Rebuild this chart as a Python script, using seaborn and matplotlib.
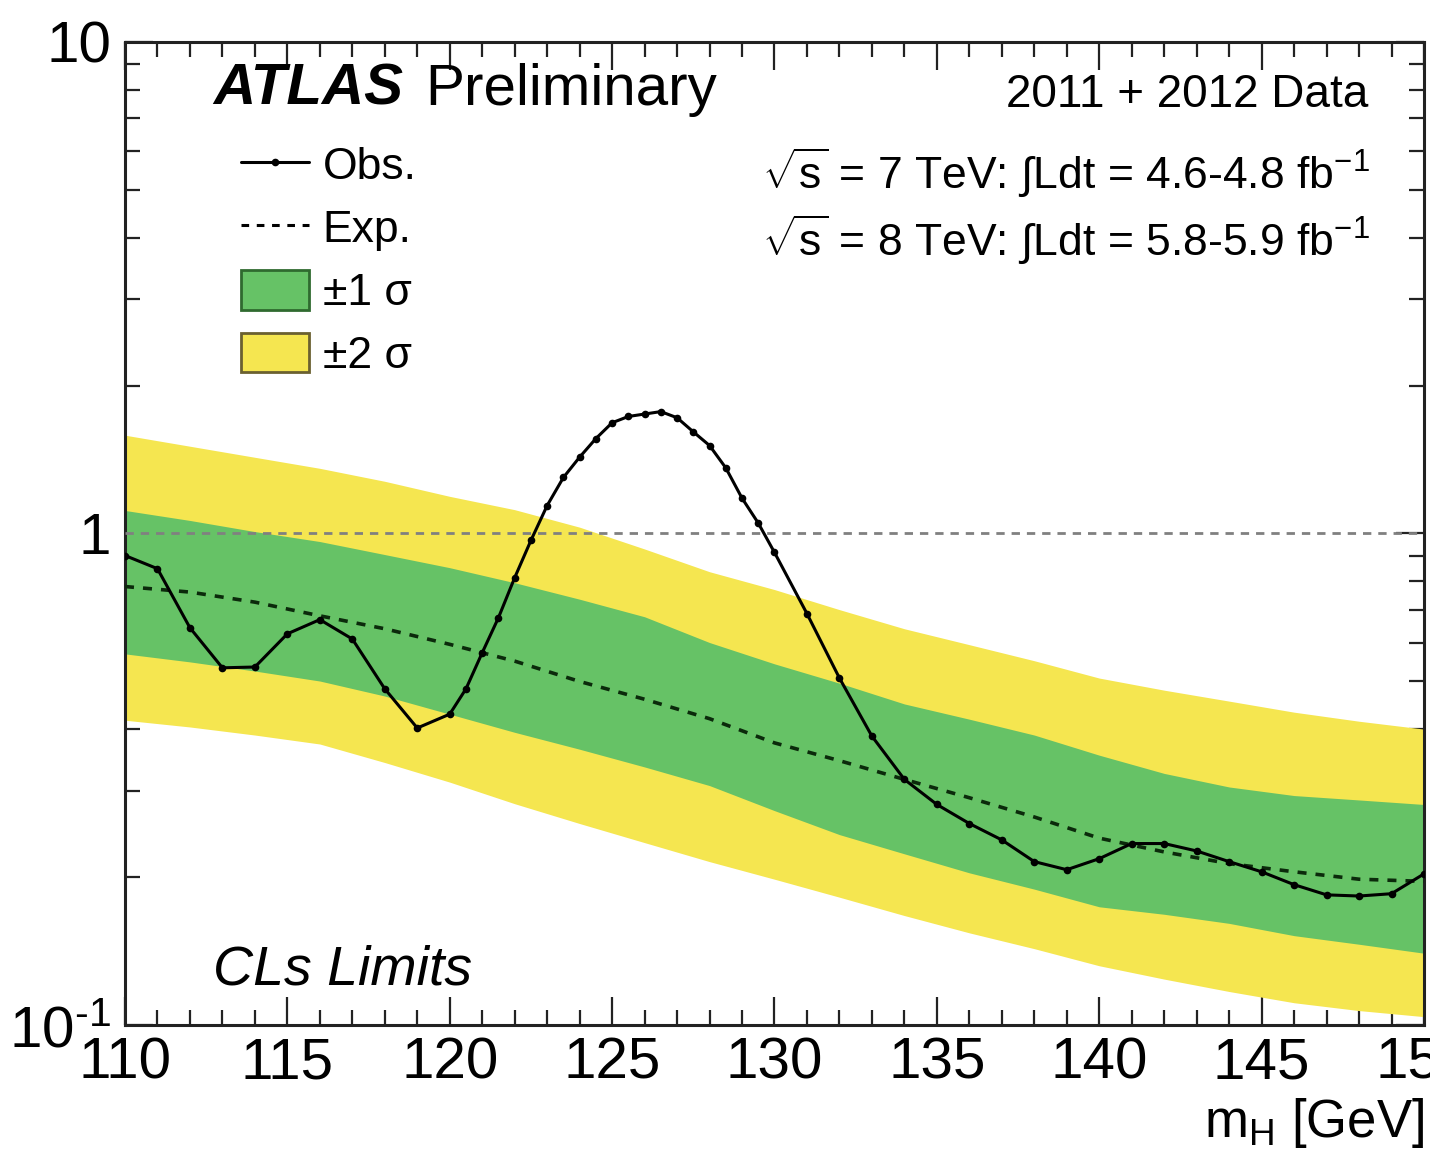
import numpy as np
import pandas as pd
import matplotlib
matplotlib.use("Agg")
import matplotlib.pyplot as plt
import seaborn as sns
from matplotlib.lines import Line2D
from matplotlib.patches import Patch
from matplotlib.ticker import FixedLocator, FixedFormatter, NullFormatter, MultipleLocator, LogLocator

# ---------------- data ----------------
obs_mass = [110, 111, 112, 113, 114, 115, 116, 117, 118, 119, 120,
            120.5, 121, 121.5, 122, 122.5, 123, 123.5, 124, 124.5, 125,
            125.5, 126, 126.5, 127, 127.5, 128, 128.5, 129, 129.5, 130,
            131, 132, 133, 134, 135, 136, 137, 138, 139, 140,
            141, 142, 143, 144, 145, 146, 147, 148, 149, 150]
obs_limit = [0.902, 0.848, 0.643, 0.533, 0.535, 0.625, 0.668, 0.610, 0.483, 0.402, 0.429,
             0.483, 0.572, 0.674, 0.813, 0.968, 1.14, 1.30, 1.43, 1.56, 1.68,
             1.73, 1.75, 1.77, 1.72, 1.61, 1.51, 1.36, 1.18, 1.05, 0.915,
             0.687, 0.508, 0.387, 0.316, 0.281, 0.257, 0.238, 0.215, 0.207, 0.218,
             0.234, 0.234, 0.226, 0.215, 0.205, 0.193, 0.184, 0.183, 0.185, 0.203]

band_mass = [110, 112, 114, 116, 118, 120, 122, 124, 126, 128, 130,
             132, 134, 136, 138, 140, 142, 144, 146, 148, 150]
exp_limit = [0.78, 0.76, 0.725, 0.68, 0.64, 0.595, 0.55, 0.50, 0.46, 0.42, 0.375,
             0.345, 0.316, 0.29, 0.265, 0.24, 0.225, 0.213, 0.205, 0.198, 0.196]
plus2 = [1.585, 1.505, 1.429, 1.357, 1.277, 1.190, 1.118, 1.03, 0.93, 0.836, 0.769,
         0.700, 0.640, 0.594, 0.551, 0.508, 0.480, 0.456, 0.433, 0.415, 0.400]
plus1 = [1.114, 1.063, 1.009, 0.963, 0.906, 0.852, 0.794, 0.735, 0.677, 0.600, 0.543,
         0.496, 0.450, 0.419, 0.389, 0.354, 0.325, 0.305, 0.293, 0.287, 0.281]
minus1 = [0.569, 0.548, 0.525, 0.501, 0.467, 0.429, 0.394, 0.364, 0.335, 0.307, 0.273,
          0.244, 0.223, 0.204, 0.189, 0.174, 0.168, 0.161, 0.152, 0.146, 0.140]
minus2 = [0.417, 0.404, 0.389, 0.373, 0.342, 0.312, 0.282, 0.257, 0.235, 0.215, 0.198,
          0.182, 0.167, 0.154, 0.143, 0.132, 0.124, 0.117, 0.111, 0.107, 0.104]

x_ticks = [110, 115, 120, 125, 130, 135, 140, 145, 150]
y_ticks = [0.1, 1, 10]
y_tick_labels = [r"10$^{\text{-}1}$", "1", "10"]

obs_df = pd.DataFrame({"mass": obs_mass, "limit": obs_limit})
exp_df = pd.DataFrame({"mass": band_mass, "limit": exp_limit})

# ---------------- style ----------------
sns.set_style("ticks")
plt.rcParams["font.family"] = ["Liberation Sans", "DejaVu Sans"]
plt.rcParams["mathtext.fontset"] = "custom"
plt.rcParams["mathtext.rm"] = "Liberation Sans"
plt.rcParams["mathtext.it"] = "Liberation Sans:italic"
plt.rcParams["mathtext.bf"] = "Liberation Sans:bold"
plt.rcParams["text.color"] = "black"
plt.rcParams["axes.labelcolor"] = "black"
plt.rcParams["xtick.color"] = "black"
plt.rcParams["ytick.color"] = "black"

GREEN = "#66c266"
YELLOW = "#f5e650"
DARK = "#222222"

fig = plt.figure(figsize=(14.3, 11.56), dpi=100)
ax = fig.add_axes([0.0874, 0.1133, 0.9084, 0.8504])

ax.fill_between(band_mass, minus2, plus2, color=YELLOW, linewidth=0, zorder=1)
ax.fill_between(band_mass, minus1, plus1, color=GREEN, linewidth=0, zorder=2)
ax.axhline(1.0, color="#808080", linestyle=(0, (3, 2.5)), linewidth=2, zorder=3)

sns.lineplot(data=exp_df, x="mass", y="limit", ax=ax, color="#0b2a0b",
             linestyle=(0, (2.5, 2.5)), linewidth=2.6, zorder=4)
sns.lineplot(data=obs_df, x="mass", y="limit", ax=ax, color="black",
             linewidth=2.2, marker="o", markersize=5.5, markeredgewidth=0, zorder=5)

ax.set_yscale("log")
ax.set_xlim(110, 150)
ax.set_ylim(0.1, 10)

ax.xaxis.set_major_locator(FixedLocator(x_ticks))
ax.xaxis.set_minor_locator(MultipleLocator(1))
ax.yaxis.set_major_locator(FixedLocator(y_ticks))
ax.yaxis.set_major_formatter(FixedFormatter(y_tick_labels))
ax.yaxis.set_minor_locator(LogLocator(base=10, subs=np.arange(2, 10)))
ax.yaxis.set_minor_formatter(NullFormatter())

ax.tick_params(which="both", direction="in", top=True, right=True, width=1.6, color=DARK)
ax.tick_params(which="major", length=20)
ax.tick_params(which="minor", length=11)
ax.tick_params(axis="x", which="major", labelsize=42, pad=8, labelcolor="black")
ax.tick_params(axis="y", which="major", labelsize=42, pad=10, labelcolor="black")
for s in ax.spines.values():
    s.set_linewidth(2.2)
    s.set_color(DARK)

ax.set_xlabel(r"m$_{\mathrm{H}}$ [GeV]", fontsize=38, loc="right", labelpad=4)
ax.set_ylabel("")

# ---------------- texts ----------------
ax.text(0.0677, 0.936, "ATLAS", transform=ax.transAxes, fontsize=42,
        fontweight="bold", fontstyle="italic", ha="left", va="baseline")
ax.text(0.231, 0.936, "Preliminary", transform=ax.transAxes, fontsize=42,
        ha="left", va="baseline")
ax.text(0.957, 0.934, "2011 + 2012 Data", transform=ax.transAxes, fontsize=33,
        ha="right", va="baseline")
ax.text(0.958, 0.851, r"$\sqrt{\mathrm{s}}$ = 7 TeV: $\int$Ldt = 4.6-4.8 fb$^{-1}$",
        transform=ax.transAxes, fontsize=32, ha="right", va="baseline")
ax.text(0.958, 0.783, r"$\sqrt{\mathrm{s}}$ = 8 TeV: $\int$Ldt = 5.8-5.9 fb$^{-1}$",
        transform=ax.transAxes, fontsize=32, ha="right", va="baseline")
ax.text(0.0677, 0.041, "CLs Limits", transform=ax.transAxes, fontsize=40,
        fontstyle="italic", ha="left", va="baseline")

# ---------------- legend ----------------
handles = [
    Line2D([], [], color="black", linewidth=2.2, marker="o", markersize=5.5, markeredgewidth=0),
    Line2D([], [], color="black", linewidth=2.2, linestyle=(0, (2.5, 2.5))),
    Patch(facecolor=GREEN, edgecolor="#2f6a2f", linewidth=2),
    Patch(facecolor=YELLOW, edgecolor="#6a6030", linewidth=2),
]
labels = ["Obs.", "Exp.", "±1 σ", "±2 σ"]
leg = ax.legend(handles, labels, loc="upper left", bbox_to_anchor=(0.089, 0.896),
                frameon=False, fontsize=32, handlelength=1.55, handleheight=1.0,
                handletextpad=0.3, labelspacing=0.42, borderpad=0, borderaxespad=0)
leg.set_zorder(10)

fig.savefig("out.png", dpi=100)
